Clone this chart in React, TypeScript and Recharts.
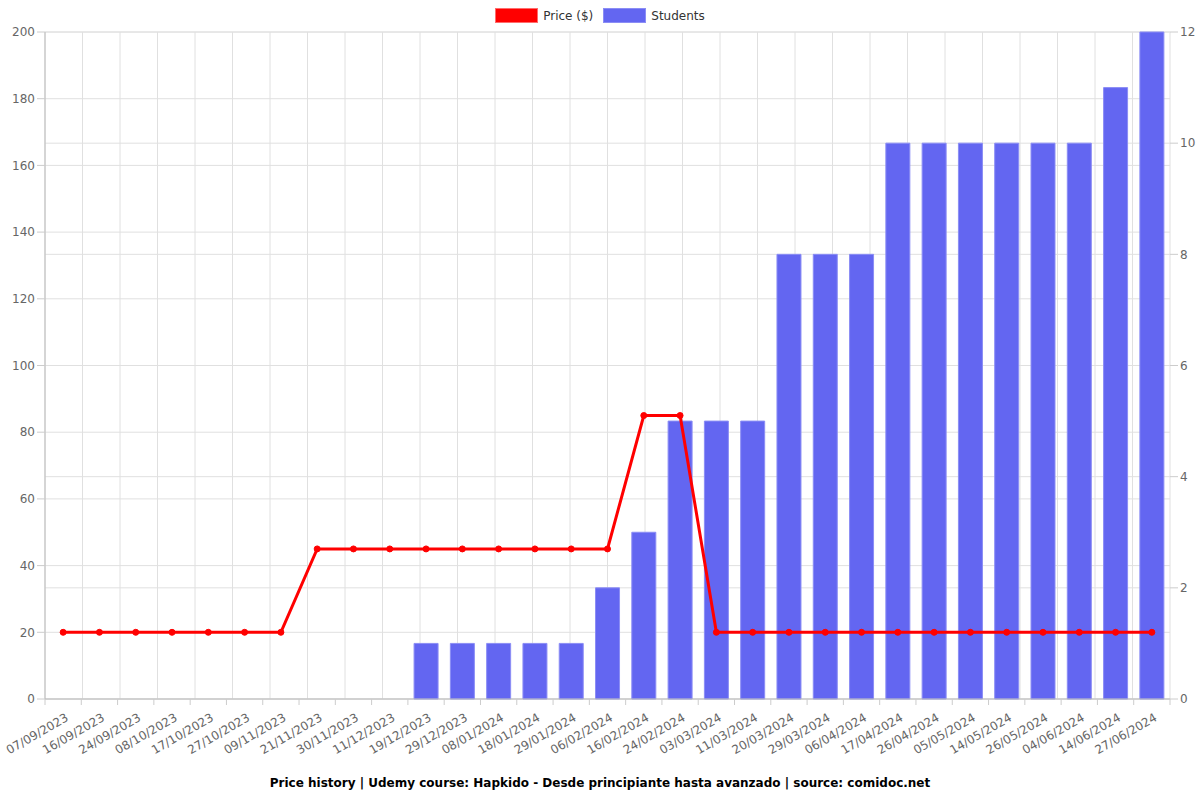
import React from 'react';
import { ComposedChart, Bar, Line, XAxis, YAxis, CartesianGrid } from 'recharts';

const dates = [
  '07/09/2023', '16/09/2023', '24/09/2023', '08/10/2023', '17/10/2023', '27/10/2023', '09/11/2023',
  '21/11/2023', '30/11/2023', '11/12/2023', '19/12/2023', '29/12/2023', '08/01/2024', '18/01/2024',
  '29/01/2024', '06/02/2024', '16/02/2024', '24/02/2024', '03/03/2024', '11/03/2024', '20/03/2024',
  '29/03/2024', '06/04/2024', '17/04/2024', '26/04/2024', '05/05/2024', '14/05/2024', '26/05/2024',
  '04/06/2024', '14/06/2024', '27/06/2024',
];
const prices = [20, 20, 20, 20, 20, 20, 20, 45, 45, 45, 45, 45, 45, 45, 45, 45, 85, 85, 20, 20, 20, 20, 20, 20, 20, 20, 20, 20, 20, 20, 20];
const students = [0, 0, 0, 0, 0, 0, 0, 0, 0, 0, 1, 1, 1, 1, 1, 2, 3, 5, 5, 5, 8, 8, 8, 10, 10, 10, 10, 10, 10, 11, 12];
const leftTicks = [0, 20, 40, 60, 80, 100, 120, 140, 160, 180, 200];
const rightTicks = [0, 2, 4, 6, 8, 10, 12];
const title = 'Price history | Udemy course: Hapkido - Desde principiante hasta avanzado | source: comidoc.net';

const data = dates.map((d, i) => ({ date: d, price: prices[i], students: students[i] }));
const boundaries = dates.map((_, i) => i).concat([dates.length]);

const W = 1200;
const H = 800;
const LEFT = 45;
const RIGHT_W = 30;
const TOP = 32;
const PLOT_BOTTOM = 699;
const BW = (W - LEFT - RIGHT_W) / dates.length;
const FONT = 'DejaVu Sans, sans-serif';

const XTick = (props: any) => {
  const { x, payload, index } = props;
  const y = PLOT_BOTTOM;
  const tx = x + 6;
  const ty = y + 21;
  return (
    <g>
      <line x1={x - BW / 2} y1={y} x2={x - BW / 2} y2={y + 6} stroke="#ccc" />
      {index === dates.length - 1 && (
        <line x1={x + BW / 2} y1={y} x2={x + BW / 2} y2={y + 6} stroke="#ccc" />
      )}
      <text
        x={tx}
        y={ty}
        transform={`rotate(-30, ${tx}, ${ty})`}
        textAnchor="end"
        fontSize={12}
        fill="#666"
        fontFamily={FONT}
      >
        {payload.value}
      </text>
    </g>
  );
};

export default function App() {
  return (
    <div style={{ position: 'absolute', left: 0, top: 0, width: W, height: H, background: '#fff', fontFamily: FONT }}>
      <div style={{ position: 'absolute', top: 8, left: 0, width: W, display: 'flex', justifyContent: 'center', alignItems: 'center', fontSize: 12, color: '#333' }}>
        <div style={{ display: 'flex', alignItems: 'center', marginRight: 10 }}>
          <span style={{ display: 'inline-block', width: 41, height: 13, background: '#ff0000', border: '1px solid rgba(255,120,120,0.9)', marginRight: 5 }} />
          <span>Price ($)</span>
        </div>
        <div style={{ display: 'flex', alignItems: 'center' }}>
          <span style={{ display: 'inline-block', width: 41, height: 13, background: '#6366f1', border: '1px solid #8b8df5', marginRight: 5 }} />
          <span>Students</span>
        </div>
      </div>
      <ComposedChart
        width={W}
        height={H}
        data={data}
        margin={{ top: TOP, right: 0, left: 0, bottom: H - PLOT_BOTTOM - 70 }}
        barCategoryGap="17%"
      >
        <XAxis xAxisId="g" type="number" domain={[0, dates.length]} ticks={boundaries} hide allowDataOverflow />
        <CartesianGrid xAxisId="g" yAxisId="left" stroke="#e0e0e0" />
        <CartesianGrid xAxisId="g" yAxisId="right" stroke="#e0e0e0" vertical={false} />
        <XAxis
          dataKey="date"
          interval={0}
          height={70}
          tickLine={false}
          axisLine={{ stroke: '#bbb' }}
          tick={<XTick />}
        />
        <YAxis
          yAxisId="left"
          width={LEFT}
          domain={[0, 200]}
          ticks={leftTicks}
          tick={{ fontSize: 12, fill: '#666', fontFamily: FONT }}
          tickLine={{ stroke: '#ccc' }}
          axisLine={{ stroke: '#bbb' }}
          tickSize={8}
        />
        <YAxis
          yAxisId="right"
          orientation="right"
          width={RIGHT_W}
          domain={[0, 12]}
          ticks={rightTicks}
          tick={{ fontSize: 12, fill: '#666', fontFamily: FONT }}
          tickLine={{ stroke: '#ccc' }}
          axisLine={false}
          tickSize={8}
        />
        <Bar yAxisId="right" dataKey="students" fill="#6366f1" stroke="#8b8df5" strokeWidth={1} isAnimationActive={false} />
        <Line
          yAxisId="left"
          dataKey="price"
          stroke="#ff0000"
          strokeWidth={3}
          dot={{ r: 3, fill: '#ff0000', stroke: '#ff0000', strokeWidth: 1 }}
          isAnimationActive={false}
        />
      </ComposedChart>
      <div style={{ position: 'absolute', top: 776, left: 0, width: W, textAlign: 'center', fontSize: 12, fontWeight: 'bold', color: '#000' }}>
        {title}
      </div>
    </div>
  );
}
